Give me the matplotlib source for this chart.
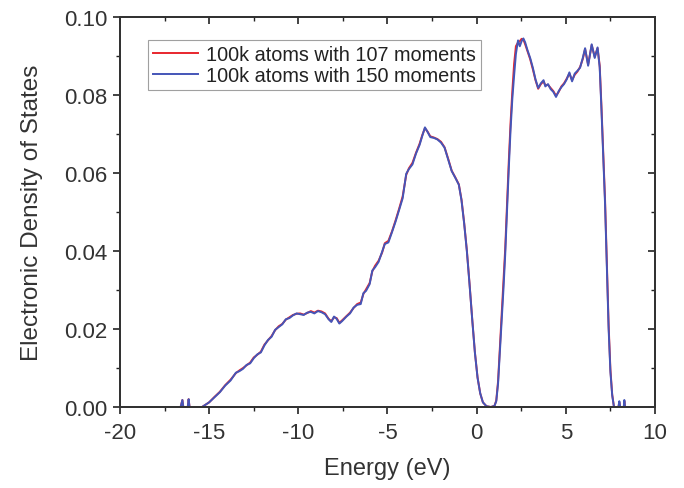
import matplotlib
matplotlib.use('Agg')
import matplotlib.pyplot as plt
from matplotlib.ticker import MultipleLocator

plt.rcParams['font.family'] = ['Liberation Sans', 'DejaVu Sans']
plt.rcParams['axes.unicode_minus'] = False

# energy grid (eV) and density of states
energy = [-16.6, -16.5, -16.45, -16.2, -16.15, -16.1, -15.4, -15.0, -14.7, -14.4,
          -14.1, -13.8, -13.5, -13.3, -13.1, -12.9, -12.7, -12.5, -12.3, -12.1,
          -11.9, -11.7, -11.5, -11.3, -11.1, -10.9, -10.7, -10.5, -10.3, -10.1,
          -9.9, -9.7, -9.5, -9.3, -9.1, -8.9, -8.7, -8.5, -8.3, -8.15,
          -8.0, -7.85, -7.7, -7.55, -7.3, -7.1, -6.9, -6.7, -6.5, -6.35,
          -6.2, -6.0, -5.85, -5.7, -5.5, -5.3, -5.15, -4.95, -4.75, -4.55,
          -4.35, -4.15, -3.95, -3.8, -3.6, -3.4, -3.2, -3.05, -2.9, -2.75,
          -2.6, -2.4, -2.2, -2.0, -1.8, -1.6, -1.4, -1.2, -1.0, -0.85,
          -0.7, -0.55, -0.4, -0.25, -0.1, 0.05, 0.2, 0.35, 0.55, 0.8,
          1.0, 1.1, 1.2, 1.3, 1.4, 1.5, 1.6, 1.7, 1.8, 1.9,
          2.0, 2.1, 2.2, 2.32, 2.42, 2.52, 2.62, 2.72, 2.85, 3.0,
          3.15, 3.3, 3.45, 3.6, 3.75, 3.85, 4.0, 4.15, 4.3, 4.45,
          4.6, 4.75, 4.9, 5.05, 5.2, 5.35, 5.5, 5.65, 5.8, 5.95,
          6.08, 6.25, 6.45, 6.62, 6.78, 6.9, 7.0, 7.1, 7.2, 7.3,
          7.4, 7.5, 7.6, 7.7, 7.95, 8.0, 8.05, 8.25, 8.28, 8.32]

dos_150 = [0.0, 0.0018, 0.0, 0.0, 0.0020, 0.0, 0.0, 0.0012, 0.0025, 0.0038,
           0.0055, 0.0068, 0.0088, 0.0092, 0.0098, 0.0108, 0.0112, 0.0125, 0.0135, 0.0140,
           0.0158, 0.0172, 0.0180, 0.0198, 0.0205, 0.0212, 0.0225, 0.0228, 0.0235, 0.0240,
           0.0238, 0.0236, 0.0242, 0.0244, 0.0240, 0.0246, 0.0243, 0.0238, 0.0225, 0.0218,
           0.0232, 0.0226, 0.0214, 0.0220, 0.0232, 0.0240, 0.0255, 0.0262, 0.0264, 0.0292,
           0.0298, 0.0315, 0.0350, 0.0358, 0.0372, 0.0398, 0.0418, 0.0422, 0.0448, 0.0475,
           0.0505, 0.0535, 0.0598, 0.0610, 0.0622, 0.0650, 0.0672, 0.0695, 0.0717, 0.0705,
           0.0692, 0.0690, 0.0686, 0.0678, 0.0665, 0.0635, 0.0605, 0.0588, 0.0570, 0.0530,
           0.0470, 0.0400, 0.0315, 0.0225, 0.0140, 0.0075, 0.0035, 0.0012, 0.0002, 0.0,
           0.0003, 0.0015, 0.0060, 0.0140, 0.0220, 0.0300, 0.0390, 0.0500, 0.0610, 0.0710,
           0.0790, 0.0850, 0.0905, 0.0940, 0.0925, 0.0938, 0.0945, 0.0935, 0.0915, 0.0895,
           0.0870, 0.0840, 0.0818, 0.0830, 0.0838, 0.0822, 0.0828, 0.0815, 0.0808, 0.0795,
           0.0810, 0.0820, 0.0828, 0.0840, 0.0858, 0.0835, 0.0855, 0.0862, 0.0870, 0.0895,
           0.0920, 0.0875, 0.0930, 0.0895, 0.0922, 0.0870, 0.0760, 0.0640, 0.0520, 0.0360,
           0.0200, 0.0090, 0.0030, 0.0, 0.0, 0.0015, 0.0, 0.0, 0.0018, 0.0]

dos_107 = [0.0, 0.0018, 0.0, 0.0, 0.0020, 0.0, 0.0, 0.0012, 0.0026, 0.0039,
           0.0056, 0.0070, 0.0087, 0.0094, 0.0100, 0.0107, 0.0114, 0.0127, 0.0134, 0.0142,
           0.0160, 0.0171, 0.0182, 0.0197, 0.0207, 0.0213, 0.0224, 0.0230, 0.0236, 0.0239,
           0.0240, 0.0237, 0.0241, 0.0246, 0.0242, 0.0247, 0.0245, 0.0240, 0.0226, 0.0220,
           0.0230, 0.0228, 0.0216, 0.0222, 0.0233, 0.0242, 0.0254, 0.0264, 0.0268, 0.0290,
           0.0302, 0.0318, 0.0348, 0.0362, 0.0375, 0.0396, 0.0420, 0.0426, 0.0450, 0.0478,
           0.0508, 0.0540, 0.0595, 0.0612, 0.0626, 0.0652, 0.0675, 0.0697, 0.0715, 0.0706,
           0.0694, 0.0691, 0.0687, 0.0680, 0.0666, 0.0637, 0.0606, 0.0589, 0.0571, 0.0532,
           0.0472, 0.0402, 0.0317, 0.0226, 0.0141, 0.0076, 0.0035, 0.0012, 0.0002, 0.0,
           0.0003, 0.0017, 0.0066, 0.0150, 0.0232, 0.0315, 0.0405, 0.0518, 0.0628, 0.0728,
           0.0810, 0.0880, 0.0925, 0.0935, 0.0938, 0.0944, 0.0942, 0.0930, 0.0912, 0.0892,
           0.0866, 0.0838, 0.0816, 0.0828, 0.0835, 0.0825, 0.0826, 0.0818, 0.0810, 0.0798,
           0.0808, 0.0822, 0.0830, 0.0842, 0.0855, 0.0838, 0.0852, 0.0860, 0.0872, 0.0892,
           0.0918, 0.0878, 0.0928, 0.0898, 0.0920, 0.0875, 0.0768, 0.0650, 0.0530, 0.0372,
           0.0210, 0.0096, 0.0032, 0.0, 0.0, 0.0012, 0.0, 0.0, 0.0015, 0.0]

fig = plt.figure(figsize=(6.84, 4.89), dpi=100)
ax = fig.add_axes([0.1754, 0.1656, 0.7822, 0.7976])

ax.plot(energy, dos_107, color='#e8262d', lw=1.4, label='100k atoms with 107 moments')
ax.plot(energy, dos_150, color='#4455b8', lw=1.4, label='100k atoms with 150 moments')

ax.set_xlim(-20, 10)
ax.set_ylim(0, 0.10)
ax.xaxis.set_major_locator(MultipleLocator(5))
ax.xaxis.set_minor_locator(MultipleLocator(2.5))
ax.yaxis.set_major_locator(MultipleLocator(0.02))
ax.yaxis.set_minor_locator(MultipleLocator(0.01))
ax.yaxis.set_major_formatter(plt.FormatStrFormatter('%.2f'))

ax.tick_params(which='both', direction='out', top=False, right=False, labelsize=16,
               colors='#222222', labelcolor='#333333')
ax.tick_params(which='major', length=5, width=1.2, pad=4)
ax.tick_params(axis='x', which='major', pad=6)
ax.tick_params(which='minor', length=3, width=1.0)

# inward ticks on top and right
ax2 = ax.twinx()
ax2.set_ylim(0, 0.10)
ax2.yaxis.set_major_locator(MultipleLocator(0.02))
ax2.yaxis.set_minor_locator(MultipleLocator(0.01))
ax2.tick_params(which='both', direction='in', labelright=False, colors='#222222')
ax2.tick_params(which='major', length=5, width=1.2)
ax2.tick_params(which='minor', length=3, width=1.0)
ax3 = ax.twiny()
ax3.set_xlim(-20, 10)
ax3.xaxis.set_major_locator(MultipleLocator(5))
ax3.xaxis.set_minor_locator(MultipleLocator(2.5))
ax3.tick_params(which='both', direction='in', labeltop=False, colors='#222222')
ax3.tick_params(which='major', length=5, width=1.2)
ax3.tick_params(which='minor', length=3, width=1.0)

for a in (ax, ax2, ax3):
    for s in a.spines.values():
        s.set_linewidth(1.3)
        s.set_color('#333333')

ax.set_xlabel('Energy (eV)', fontsize=17, color='#333333', labelpad=10)
ax.set_ylabel('Electronic Density of States', fontsize=17.5, color='#333333', labelpad=15)

leg = ax3.legend(*ax.get_legend_handles_labels(), loc='upper left',
                 bbox_to_anchor=(0.052, 0.941), fontsize=14.3, frameon=True,
                 fancybox=False, edgecolor='#888888', handlelength=2.3,
                 borderpad=0.25, labelspacing=0.1, handletextpad=0.4,
                 borderaxespad=0)
leg.get_frame().set_linewidth(0.8)
for t in leg.get_texts():
    t.set_color('#222222')

fig.savefig('out.png', dpi=100, facecolor='white')
